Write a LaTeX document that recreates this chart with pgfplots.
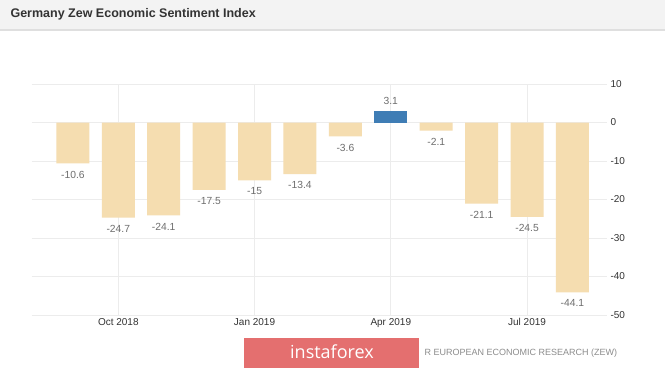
\documentclass[border=0pt]{standalone}
\usepackage{pgfplots}
\pgfplotsset{compat=1.18}
\usepackage{pgfplotstable}
\usepackage{fontspec}
\setmainfont{Liberation Sans}
\newfontfamily\wmfont{Open Sans}
\definecolor{barc}{HTML}{F5DDB0}
\definecolor{bluec}{HTML}{3F7DB5}
\definecolor{gridc}{HTML}{ECECEC}
\definecolor{lblc}{HTML}{6E6E6E}
\definecolor{tickc}{HTML}{333333}
\definecolor{redc}{HTML}{E46F6F}
\definecolor{titlebg}{HTML}{F3F3F3}

\pgfplotstableread{
x y lbl
0 -10.6 -10.6
1 -24.7 -24.7
2 -24.1 -24.1
3 -17.5 -17.5
4 -15.0 -15
5 -13.4 -13.4
6 -3.6 -3.6
8 -2.1 -2.1
9 -21.1 -21.1
10 -24.5 -24.5
11 -44.1 -44.1
}\negdata
\pgfplotstableread{
x y lbl
7 3.1 3.1
}\posdata

\begin{document}
\begin{tikzpicture}[x=1pt,y=1pt]
\useasboundingbox (0,0) rectangle (665,-370);
\fill[white] (0,0) rectangle (665,-370);
\fill[titlebg] (0,0) rectangle (665,-30);
\draw[gray!25, line width=1.2pt] (0,-30) -- (665,-30);
\node[anchor=west, font=\fontsize{12.5}{14}\selectfont\bfseries, text=tickc] at (7,-14) {Germany Zew Economic Sentiment Index};
\begin{axis}[
  at={(32pt,-315pt)}, anchor=south west,
  scale only axis, width=575pt, height=231pt,
  xmin=-0.9, xmax=11.76, ymin=-50, ymax=10,
  axis line style={draw=none},
  major tick length=0pt,
  xmajorgrids, ymajorgrids,
  grid style={gridc, line width=0.8pt},
  xtick={1,4,7,10},
  xticklabels={Oct 2018, Jan 2019, Apr 2019, Jul 2019},
  ytick={-50,-40,-30,-20,-10,0,10},
  yticklabels={-50,-40,-30,-20,-10,0,10},
  yticklabel pos=right,
  tick label style={font=\fontsize{10}{12}\selectfont, text=tickc},
  ybar, bar width=33pt, bar shift=0pt,
  nodes near coords,
  point meta=explicit symbolic,
  every node near coord/.append style={font=\fontsize{10.3}{12}\selectfont, text=lblc},
  clip=false,
]
\addplot[fill=barc, draw=none, every node near coord/.append style={anchor=north, yshift=-4pt}] table[x=x, y=y, meta=lbl] {\negdata};
\addplot[fill=bluec, draw=none, every node near coord/.append style={anchor=south, yshift=2pt}] table[x=x, y=y, meta=lbl] {\posdata};
\end{axis}
\node[anchor=west, font=\fontsize{9}{11}\selectfont, text=gray!90] at (421,-353) {R EUROPEAN ECONOMIC RESEARCH (ZEW)};
\fill[redc] (244,-338) rectangle (419,-368);
\node[font=\wmfont\fontsize{18}{20}\selectfont, text=white] at (332,-352) {instaforex};
\end{tikzpicture}
\end{document}
